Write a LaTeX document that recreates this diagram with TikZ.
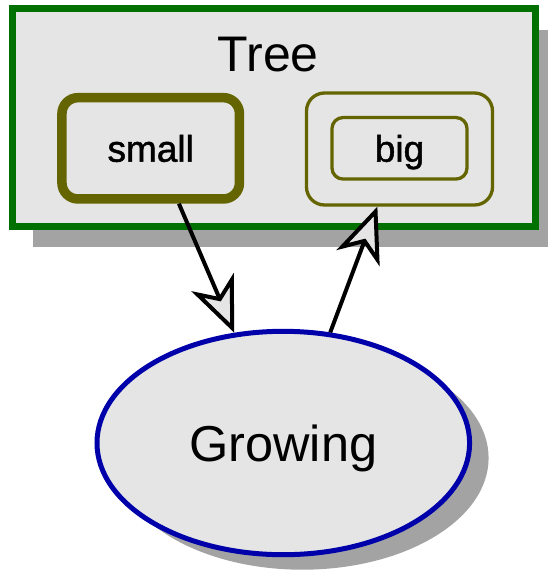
\documentclass[tikz,border=0pt]{standalone}
\usepackage{fontspec}
\setmainfont{Liberation Sans}
\newfontfamily\statefont[FakeBold=1.3]{Liberation Sans}
\usepackage{tikz}
\usetikzlibrary{shapes.geometric,arrows.meta,shadows}
\definecolor{treegreen}{RGB}{0,112,0}
\definecolor{olivebox}{RGB}{100,100,0}
\definecolor{growblue}{RGB}{0,0,170}
\definecolor{boxfill}{RGB}{229,229,229}
\definecolor{shadowgray}{RGB}{163,163,163}

\begin{document}
\begin{tikzpicture}[
    x=1pt, y=-1pt,
    frame/.style={rectangle, draw=treegreen, line width=7pt, fill=boxfill, minimum width=523pt, minimum height=217.5pt,
        drop shadow={shadow xshift=21pt, shadow yshift=-21pt, fill=shadowgray, opacity=1}},
    state/.style={rectangle, rounded corners=16pt, draw=olivebox, fill=boxfill, inner sep=0pt, text depth=0pt, font=\statefont\fontsize{37}{44}\selectfont},
    usecase/.style={ellipse, draw=growblue, line width=5pt, fill=boxfill, minimum width=372.6pt, minimum height=223.4pt, inner sep=0pt, text depth=0pt,
        font=\fontsize{50.5}{60}\selectfont, drop shadow={shadow xshift=19pt, shadow yshift=-15pt, fill=shadowgray, opacity=1}},
    arrow/.style={-{Stealth[length=55pt, width=46pt, inset=16pt, fill=boxfill]}, line width=4pt}
]
    \useasboundingbox (0,0) rectangle (548,574);
    \clip (0,0) rectangle (548,574);

    % Nodes
    \node[frame] (tree) at (273.5,117.3) {};
    \node[font=\fontsize{50}{60}\selectfont, anchor=base] (title) at (268.3,71.7) {Tree};
    \node[state, line width=9.5pt, minimum width=177.5pt, minimum height=101.3pt] (small) at (150.7,148.3) {small};
    \node[state, line width=3.3pt, rounded corners=18pt, minimum width=186pt, minimum height=112pt] (bigframe) at (399.5,149) {};
    \node[state, line width=3.3pt, rounded corners=11pt, minimum width=135pt, minimum height=61.5pt] (big) at (399.5,148.3) {big};
    \node[usecase] (grow) at (283.3,443) {Growing};

    % Arrows
    \draw[arrow] (small.-63) -- (grow.114);
    \draw[arrow] (grow.67) -- (bigframe.-111);
\end{tikzpicture}
\end{document}
